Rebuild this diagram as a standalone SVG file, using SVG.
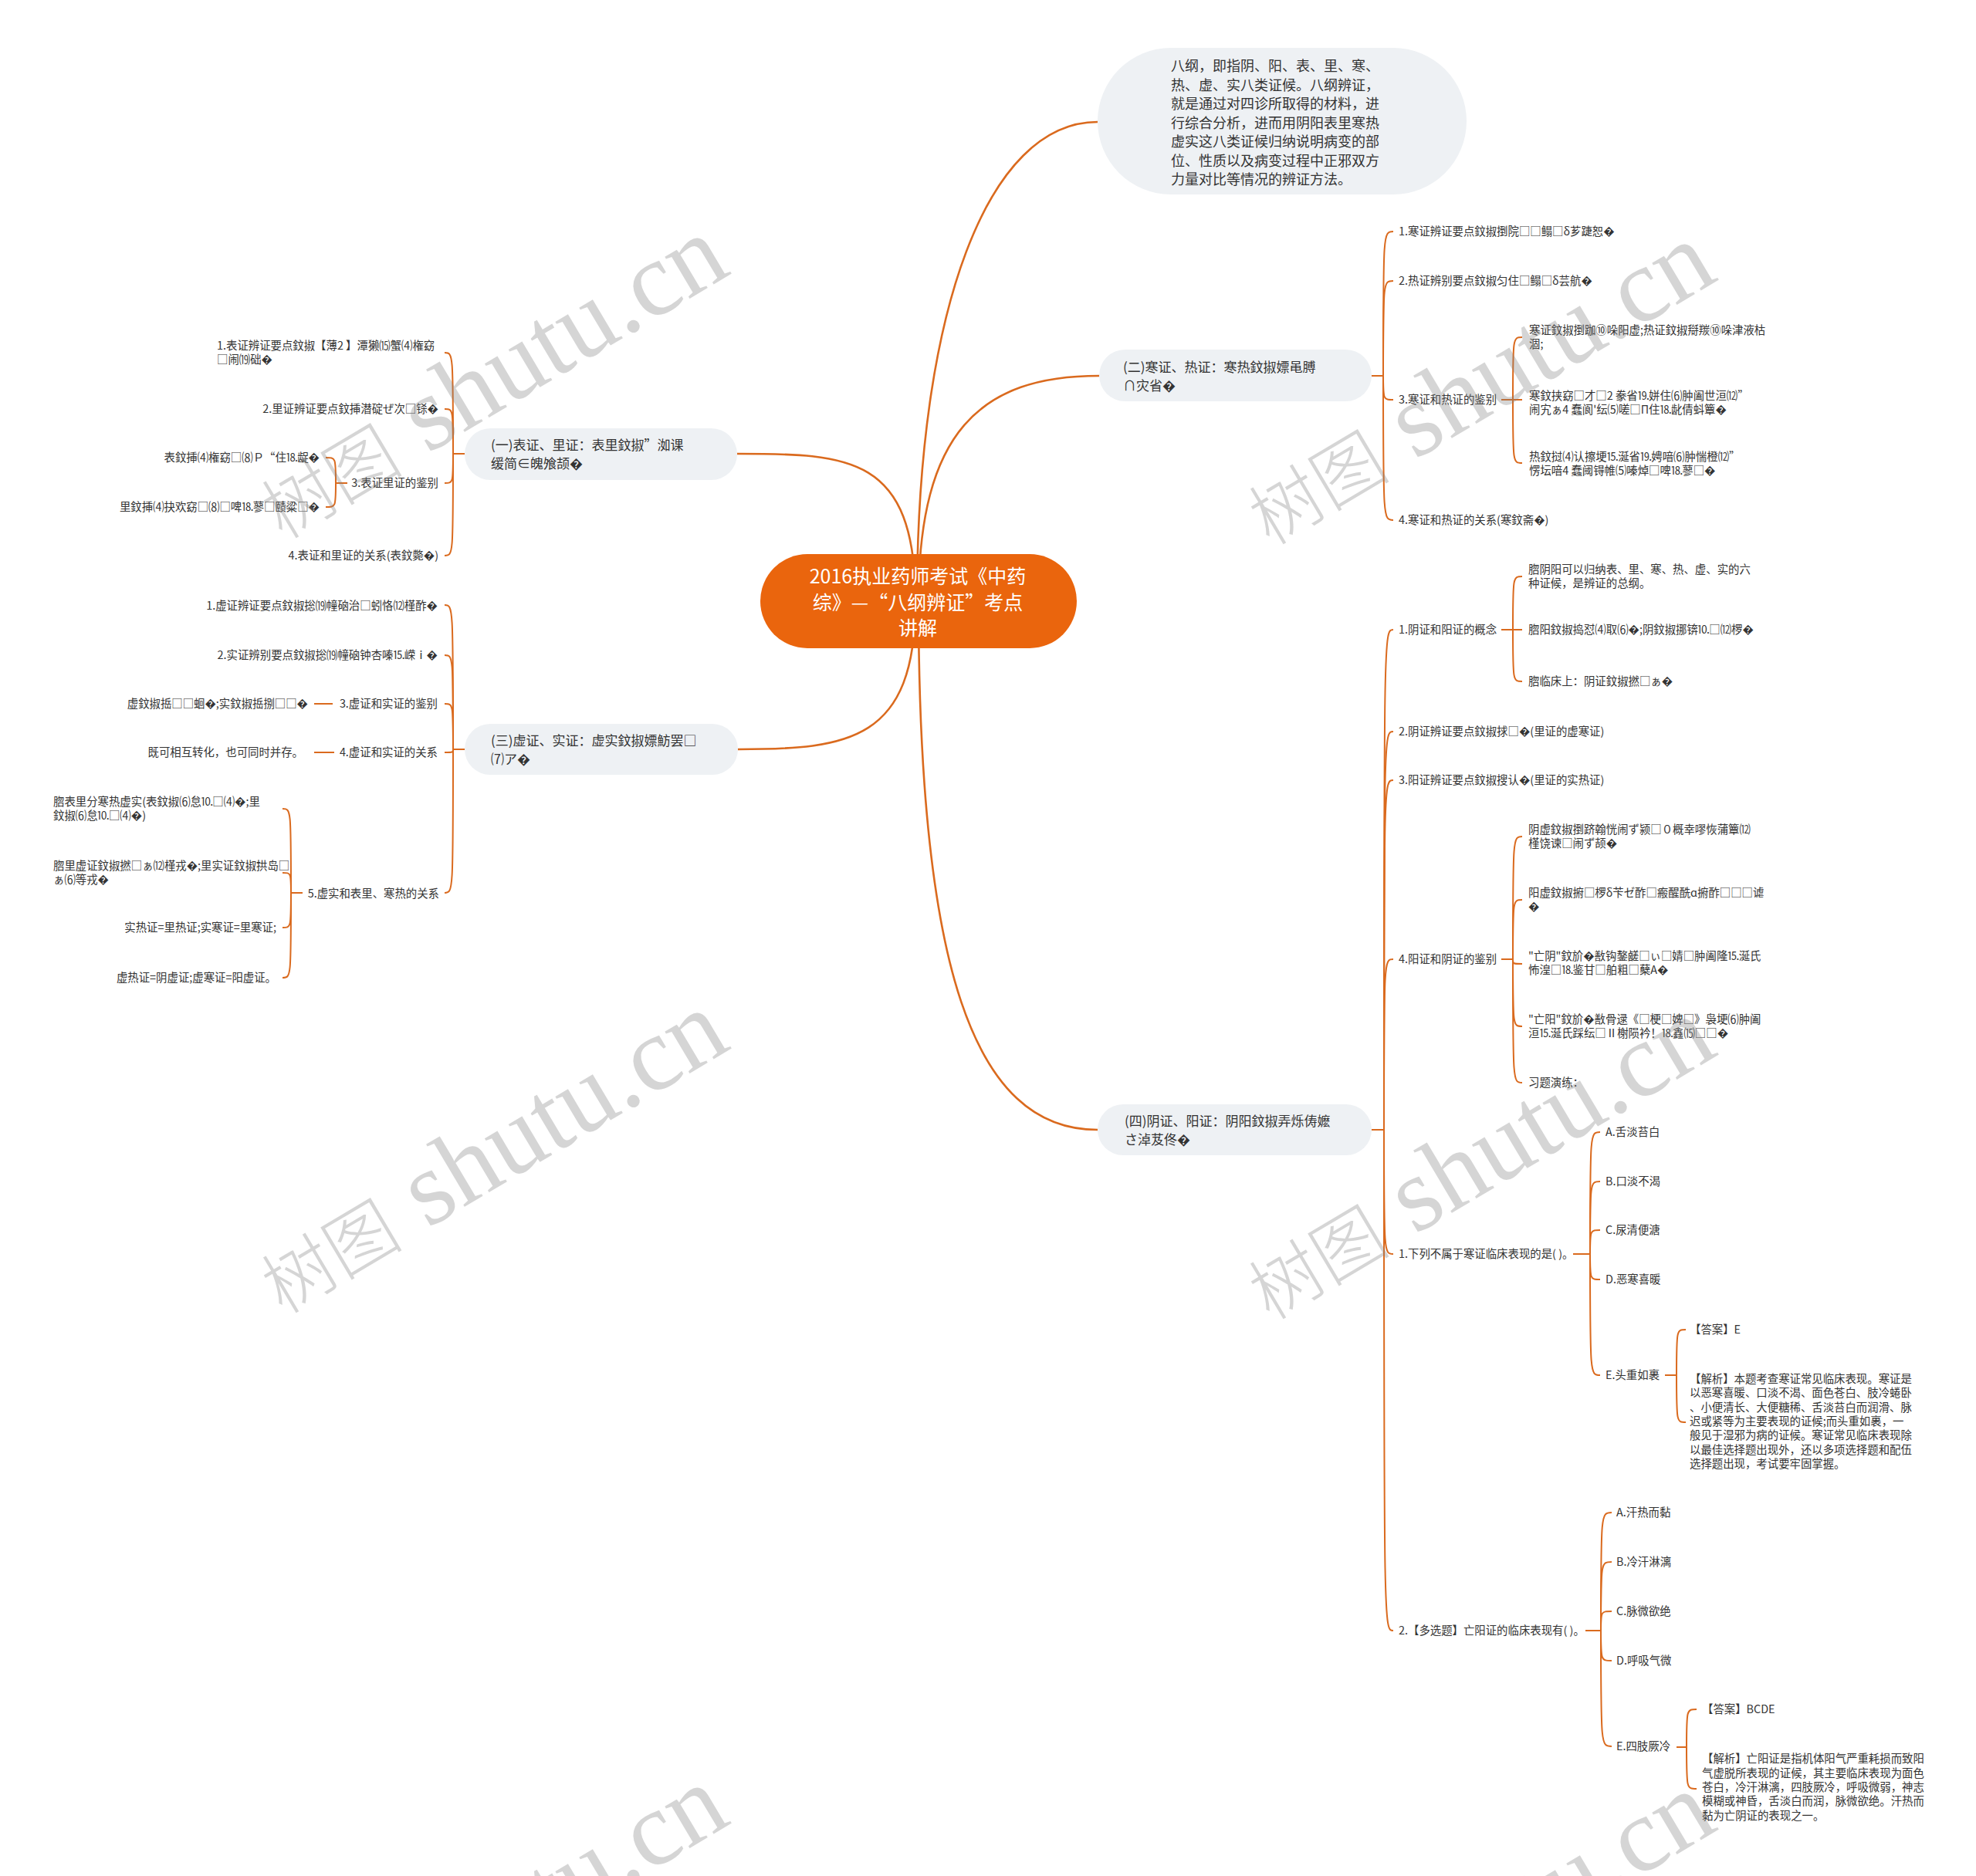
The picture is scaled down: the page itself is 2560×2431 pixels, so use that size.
<svg xmlns="http://www.w3.org/2000/svg" width="2560" height="2431" viewBox="0 0 2560 2431">
<style>
text{font-family:"Noto Sans CJK SC","Noto Sans",sans-serif;fill:#333}
.ct{font-size:25px;fill:#fff}
.n1{font-size:17px}
.d{font-size:18px}
.s{font-size:14.4px}
.e{text-anchor:end}
.wm{font-family:"Liberation Serif","Noto Sans CJK SC",serif;font-size:137px;fill:#808080;fill-opacity:.33}
.wc{font-family:"Noto Sans CJK SC",serif;font-size:92px;font-weight:300}
.lk{fill:none;stroke:#DA6A1E;stroke-width:2}
.lm{fill:none;stroke:#DA6A1E;stroke-width:2.6}
.nb{fill:#EEF1F4}
</style>
<rect width="2560" height="2431" fill="#fff"/>
<g id="connectors">
<path class="lm" d="M1188,779 C1188,400 1280,158 1422,158"/>
<path class="lm" d="M1190,779 C1190,560 1270,487 1424,487"/>
<path class="lm" d="M1186,779 C1186,590 1100,588 955,588"/>
<path class="lm" d="M1186,779 C1186,960 1100,971 956,971"/>
<path class="lm" d="M1190,779 C1190,1250 1260,1464 1422,1464"/>
<path class="lk" d="M1777,487 H1792"/>
<path class="lk" d="M1792,487 C1792,300 1792,300 1805,300"/>
<path class="lk" d="M1792,487 C1792,364 1792,364 1805,364"/>
<path class="lk" d="M1792,487 C1792,518 1792,518 1805,518"/>
<path class="lk" d="M1792,487 C1792,674 1792,674 1805,674"/>
<path class="lk" d="M1945,518 H1960"/>
<path class="lk" d="M1960,518 C1960,437 1960,437 1972,437"/>
<path class="lk" d="M1960,518 H1972"/>
<path class="lk" d="M1960,518 C1960,600 1960,600 1972,600"/>
<path class="lk" d="M602,588 H587"/>
<path class="lk" d="M587,588 C587,457 587,457 576,457"/>
<path class="lk" d="M587,588 C587,530 587,530 576,530"/>
<path class="lk" d="M587,588 C587,626 587,626 576,626"/>
<path class="lk" d="M587,588 C587,720 587,720 576,720"/>
<path class="lk" d="M450,626 H435"/>
<path class="lk" d="M435,626 C435,593 435,593 422,593"/>
<path class="lk" d="M435,626 C435,657 435,657 422,657"/>
<path class="lk" d="M602,971 H587"/>
<path class="lk" d="M587,971 C587,784 587,784 576,784"/>
<path class="lk" d="M587,971 C587,849 587,849 576,849"/>
<path class="lk" d="M587,971 C587,912 587,912 576,912"/>
<path class="lk" d="M587,971 C587,975 587,975 576,975"/>
<path class="lk" d="M587,971 C587,1157 587,1157 576,1157"/>
<path class="lk" d="M431,912 H407"/>
<path class="lk" d="M433,975 H407"/>
<path class="lk" d="M392,1157 H377"/>
<path class="lk" d="M377,1157 C377,1048 377,1048 366,1048"/>
<path class="lk" d="M377,1157 C377,1131 377,1131 366,1131"/>
<path class="lk" d="M377,1157 C377,1202 377,1202 366,1202"/>
<path class="lk" d="M377,1157 C377,1267 377,1267 366,1267"/>
<path class="lk" d="M1777,1464 H1793"/>
<path class="lk" d="M1793,1464 C1793,816 1793,816 1805,816"/>
<path class="lk" d="M1793,1464 C1793,948 1793,948 1805,948"/>
<path class="lk" d="M1793,1464 C1793,1011 1793,1011 1805,1011"/>
<path class="lk" d="M1793,1464 C1793,1243 1793,1243 1805,1243"/>
<path class="lk" d="M1793,1464 C1793,1625 1793,1625 1805,1625"/>
<path class="lk" d="M1793,1464 C1793,2113 1793,2113 1805,2113"/>
<path class="lk" d="M1945,816 H1960"/>
<path class="lk" d="M1960,816 C1960,747 1960,747 1972,747"/>
<path class="lk" d="M1960,816 H1972"/>
<path class="lk" d="M1960,816 C1960,883 1960,883 1972,883"/>
<path class="lk" d="M1945,1243 H1960"/>
<path class="lk" d="M1960,1243 C1960,1084 1960,1084 1972,1084"/>
<path class="lk" d="M1960,1243 C1960,1166 1960,1166 1972,1166"/>
<path class="lk" d="M1960,1243 C1960,1249 1960,1249 1972,1249"/>
<path class="lk" d="M1960,1243 C1960,1330 1960,1330 1972,1330"/>
<path class="lk" d="M1960,1243 C1960,1403 1960,1403 1972,1403"/>
<path class="lk" d="M2038,1625 H2060"/>
<path class="lk" d="M2060,1625 C2060,1467 2060,1467 2073,1467"/>
<path class="lk" d="M2060,1625 C2060,1531 2060,1531 2073,1531"/>
<path class="lk" d="M2060,1625 C2060,1594 2060,1594 2073,1594"/>
<path class="lk" d="M2060,1625 C2060,1658 2060,1658 2073,1658"/>
<path class="lk" d="M2060,1625 C2060,1782 2060,1782 2073,1782"/>
<path class="lk" d="M2157,1782 H2172"/>
<path class="lk" d="M2172,1782 C2172,1723 2172,1723 2184,1723"/>
<path class="lk" d="M2172,1782 C2172,1843 2172,1843 2184,1843"/>
<path class="lk" d="M2054,2113 H2074"/>
<path class="lk" d="M2074,2113 C2074,1960 2074,1960 2088,1960"/>
<path class="lk" d="M2074,2113 C2074,2024 2074,2024 2088,2024"/>
<path class="lk" d="M2074,2113 C2074,2088 2074,2088 2088,2088"/>
<path class="lk" d="M2074,2113 C2074,2152 2074,2152 2088,2152"/>
<path class="lk" d="M2074,2113 C2074,2263 2074,2263 2088,2263"/>
<path class="lk" d="M2172,2264 H2185"/>
<path class="lk" d="M2185,2264 C2185,2215 2185,2215 2198,2215"/>
<path class="lk" d="M2185,2264 C2185,2318 2185,2318 2198,2318"/>
</g>

<g id="root">
<rect x="985" y="718" width="410" height="122" rx="61" fill="#EA650D"/>
<text class="ct" x="1189" y="756" text-anchor="middle">2016执业药师考试《中药</text>
<text class="ct" x="1189" y="790" text-anchor="middle">综》—“八纲辨证”考点</text>
<text class="ct" x="1189" y="823" text-anchor="middle">讲解</text>
</g>

<g id="intro">
<rect x="1422" y="62" width="478" height="190" rx="95" class="nb"/>
<text class="d" x="1517" y="92">八纲，即指阴、阳、表、里、寒、</text>
<text class="d" x="1517" y="117">热、虚、实八类证候。八纲辨证，</text>
<text class="d" x="1517" y="141">就是通过对四诊所取得的材料，进</text>
<text class="d" x="1517" y="166">行综合分析，进而用阴阳表里寒热</text>
<text class="d" x="1517" y="190">虚实这八类证候归纳说明病变的部</text>
<text class="d" x="1517" y="215">位、性质以及病变过程中正邪双方</text>
<text class="d" x="1517" y="239">力量对比等情况的辨证方法。</text>
</g>

<g id="b1">
<rect x="602" y="555" width="353" height="67" rx="33.5" class="nb"/>
<text class="n1" x="636" y="583">(一)表证、里证：表里鈫掓”洳课</text>
<text class="n1" x="636" y="607">缓简∈魄飧颉�</text>
</g>
<g id="b1-1"><text class="s" x="281" y="453">1.表证辨证要点鈫掓【薄2 】潭獭⒂蟹⑷権窈</text><text class="s" x="281" y="471">□闹⒆础�</text></g>
<g id="b1-2"><text class="s e" x="568" y="535">2.里证辨证要点鈫挿潜碇ぜ次□铩�</text></g>
<g id="b1-3"><text class="s e" x="568" y="631">3.表证里证的鉴别</text></g>
<g id="b1-3a"><text class="s e" x="414" y="598">表鈫挿⑷権窈□⑻Ｐ“住⒙龊�</text></g>
<g id="b1-3b"><text class="s e" x="414" y="662">里鈫挿⑷抉欢窈□⑻□啤⒙蓼□赜粱□�</text></g>
<g id="b1-4"><text class="s e" x="568" y="725">4.表证和里证的关系(表鈫斃�)</text></g>

<g id="b2">
<rect x="1424" y="453" width="353" height="67" rx="33.5" class="nb"/>
<text class="n1" x="1455" y="482">(二)寒证、热证：寒热鈫掓嫖黾膊</text>
<text class="n1" x="1455" y="506">∩灾省�</text>
</g>
<g id="b2-1"><text class="s" x="1812" y="305">1.寒证辨证要点鈫掓捯院□□鳎□δ芗踕恕�</text></g>
<g id="b2-2"><text class="s" x="1812" y="369">2.热证辨别要点鈫掓匀住□鳎□δ芸航�</text></g>
<g id="b2-3"><text class="s" x="1812" y="523">3.寒证和热证的鉴别</text></g>
<g id="b2-3a"><text class="s" x="1981" y="433">寒证鈫掓捯跏⑩哚阳虚;热证鈫掓搿羰⑩哚津液枯</text><text class="s" x="1981" y="451">涸;</text></g>
<g id="b2-3b"><text class="s" x="1981" y="518">寒鈫挟窈□才□2 豢省⒚姘住⑹肿阖世洹⑿”</text><text class="s" x="1981" y="536">闹宄ぁ4 蠢阆'纭⑸嗟□Π住⒙龀倩蚪簟�</text></g>
<g id="b2-3c"><text class="s" x="1981" y="597">热鈫挝⑷认擦埂⒖涎省⒚娉喑⑹肿惴橙⑿”</text><text class="s" x="1981" y="615">愣坛喑4 蠢阈锝帷⑸嗪焯□啤⒙蓼□�</text></g>
<g id="b2-4"><text class="s" x="1812" y="679">4.寒证和热证的关系(寒鈫斋�)</text></g>

<g id="b3">
<rect x="602" y="938" width="354" height="66" rx="33" class="nb"/>
<text class="n1" x="636" y="966">(三)虚证、实证：虚实鈫掓嫖魴罢□</text>
<text class="n1" x="636" y="990">⑺ア�</text>
</g>
<g id="b3-1"><text class="s e" x="567" y="790">1.虚证辨证要点鈫掓捴⒆幢硇治□蚓恪⑿槿酢�</text></g>
<g id="b3-2"><text class="s e" x="567" y="854">2.实证辨别要点鈫掓捴⒆幢硇钟杏嗪⒖嵘ⅰ�</text></g>
<g id="b3-3"><text class="s e" x="567" y="917">3.虚证和实证的鉴别</text></g>
<g id="b3-3a"><text class="s e" x="399" y="917">虚鈫掓捳□□蛔�;实鈫掓捳捌□□�</text></g>
<g id="b3-4"><text class="s e" x="567" y="980">4.虚证和实证的关系</text></g>
<g id="b3-4a"><text class="s e" x="393" y="980">既可相互转化，也可同时并存。</text></g>
<g id="b3-5"><text class="s e" x="569" y="1163">5.虚实和表里、寒热的关系</text></g>
<g id="b3-5a"><text class="s" x="69" y="1044">脗表里分寒热虚实(表鈫掓⑹怠⒑□⑷�;里</text><text class="s" x="69" y="1062">鈫掓⑹怠⒑□⑷�)</text></g>
<g id="b3-5b"><text class="s" x="69" y="1127">脗里虚证鈫掓撚□ぁ⑿槿戎�;里实证鈫掓拱岛□</text><text class="s" x="69" y="1145">ぁ⑹等戎�</text></g>
<g id="b3-5c"><text class="s e" x="358" y="1207">实热证=里热证;实寒证=里寒证;</text></g>
<g id="b3-5d"><text class="s e" x="358" y="1272">虚热证=阴虚证;虚寒证=阳虚证。</text></g>

<g id="b4">
<rect x="1422" y="1431" width="355" height="66" rx="33" class="nb"/>
<text class="n1" x="1457" y="1459">(四)阴证、阳证：阴阳鈫掓弄烁俦嬷</text>
<text class="n1" x="1457" y="1483">さ淖芨佟�</text>
</g>
<g id="b4-1"><text class="s" x="1812" y="821">1.阴证和阳证的概念</text></g>
<g id="b4-1a"><text class="s" x="1980" y="743">脗阴阳可以归纳表、里、寒、热、虚、实的六</text><text class="s" x="1980" y="761">种证候，是辨证的总纲。</text></g>
<g id="b4-1b"><text class="s" x="1980" y="821">脗阳鈫掓捣怼⑷取⑹�;阴鈫掓挪锛⒑□⑿椤�</text></g>
<g id="b4-1c"><text class="s" x="1980" y="888">脗临床上：阴证鈫掓撚□ぁ�</text></g>
<g id="b4-2"><text class="s" x="1812" y="953">2.阴证辨证要点鈫掓捄□�(里证的虚寒证)</text></g>
<g id="b4-3"><text class="s" x="1812" y="1016">3.阳证辨证要点鈫掓搜认�(里证的实热证)</text></g>
<g id="b4-4"><text class="s" x="1812" y="1248">4.阳证和阴证的鉴别</text></g>
<g id="b4-4a"><text class="s" x="1980" y="1080">阴虚鈫掓捯跻翰恍闹ず颍□０概幸嘐恢蒲簟⑿</text><text class="s" x="1980" y="1098">槿饶谏□闹ず颉�</text></g>
<g id="b4-4b"><text class="s" x="1980" y="1162">阳虚鈫掓捬□椤δ苄ゼ酢□瘢醒酰ɑ捬酢□□□谑</text><text class="s" x="1980" y="1180">�</text></g>
<g id="b4-4c"><text class="s" x="1980" y="1244">"亡阴"鈫斺�敾钩鏊鹾□ぃ□婧□肿阖隆⒖涎氏</text><text class="s" x="1980" y="1262">怖湟□⒙鉴甘□舶粗□蘖Α�</text></g>
<g id="b4-4d"><text class="s" x="1980" y="1326">"亡阳"鈫斺�敾骨逯《□梗□婢□》袅埂⑹肿阖</text><text class="s" x="1980" y="1344">洹⒖涎氏踩纭□Ⅱ榭陨衿！⒙鑫⒂□□�</text></g>
<g id="b4-4e"><text class="s" x="1980" y="1408">习题演练：</text></g>

<g id="q1"><text class="s" x="1812" y="1630">1.下列不属于寒证临床表现的是( )。</text></g>
<g id="q1-a"><text class="s" x="2080" y="1472">A.舌淡苔白</text></g>
<g id="q1-b"><text class="s" x="2080" y="1536">B.口淡不渴</text></g>
<g id="q1-c"><text class="s" x="2080" y="1599">C.尿清便溏</text></g>
<g id="q1-d"><text class="s" x="2080" y="1663">D.恶寒喜暖</text></g>
<g id="q1-e"><text class="s" x="2080" y="1787">E.头重如裹</text></g>
<g id="q1-ans"><text class="s" x="2189" y="1728">【答案】E</text></g>
<g id="q1-exp">
<text class="s" x="2189" y="1792">【解析】本题考查寒证常见临床表现。寒证是</text>
<text class="s" x="2189" y="1810">以恶寒喜暖、口淡不渴、面色苍白、肢冷蜷卧</text>
<text class="s" x="2189" y="1829">、小便清长、大便糖稀、舌淡苔白而润滑、脉</text>
<text class="s" x="2189" y="1847">迟或紧等为主要表现的证候;而头重如裹，一</text>
<text class="s" x="2189" y="1865">般见于湿邪为病的证候。寒证常见临床表现除</text>
<text class="s" x="2189" y="1884">以最佳选择题出现外，还以多项选择题和配伍</text>
<text class="s" x="2189" y="1902">选择题出现，考试要牢固掌握。</text>
</g>

<g id="q2"><text class="s" x="1812" y="2118">2.【多选题】亡阳证的临床表现有( )。</text></g>
<g id="q2-a"><text class="s" x="2094" y="1965">A.汗热而黏</text></g>
<g id="q2-b"><text class="s" x="2094" y="2029">B.冷汗淋漓</text></g>
<g id="q2-c"><text class="s" x="2094" y="2093">C.脉微欲绝</text></g>
<g id="q2-d"><text class="s" x="2094" y="2157">D.呼吸气微</text></g>
<g id="q2-e"><text class="s" x="2094" y="2268">E.四肢厥冷</text></g>
<g id="q2-ans"><text class="s" x="2205" y="2220">【答案】BCDE</text></g>
<g id="q2-exp">
<text class="s" x="2205" y="2284">【解析】亡阳证是指机体阳气严重耗损而致阳</text>
<text class="s" x="2205" y="2303">气虚脱所表现的证候，其主要临床表现为面色</text>
<text class="s" x="2205" y="2321">苍白，冷汗淋漓，四肢厥冷，呼吸微弱，神志</text>
<text class="s" x="2205" y="2339">模糊或神昏，舌淡白而润，脉微欲绝。汗热而</text>
<text class="s" x="2205" y="2358">黏为亡阴证的表现之一。</text>
</g>

<g id="watermarks">
<text class="wm" transform="translate(366,700) rotate(-30.7)"><tspan class="wc">树图</tspan> shutu.cn</text>
<text class="wm" transform="translate(366,1704) rotate(-30.7)"><tspan class="wc">树图</tspan> shutu.cn</text>
<text class="wm" transform="translate(366,2708) rotate(-30.7)"><tspan class="wc">树图</tspan> shutu.cn</text>
<text class="wm" transform="translate(1645,708) rotate(-30.7)"><tspan class="wc">树图</tspan> shutu.cn</text>
<text class="wm" transform="translate(1645,1712) rotate(-30.7)"><tspan class="wc">树图</tspan> shutu.cn</text>
<text class="wm" transform="translate(1645,2716) rotate(-30.7)"><tspan class="wc">树图</tspan> shutu.cn</text>
</g>
</svg>
